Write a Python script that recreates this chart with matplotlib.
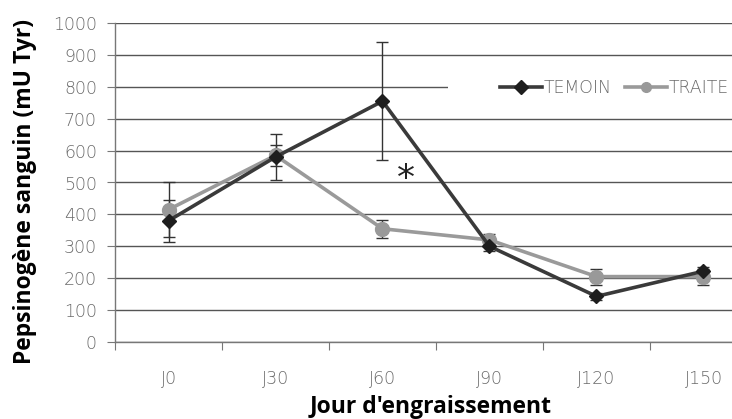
import matplotlib
matplotlib.use("Agg")
import matplotlib.pyplot as plt
import matplotlib.transforms as mtransforms
from matplotlib.patches import Rectangle
import numpy as np

categories = ["J0", "J30", "J60", "J90", "J120", "J150"]
temoin = [380, 580, 755, 300, 143, 222]
temoin_err = [65, 72, 185, 15, 12, 12]
traite = [415, 585, 355, 320, 205, 205]
traite_err = [85, 33, 28, 20, 25, 25]
yticks = [0, 100, 200, 300, 400, 500, 600, 700, 800, 900, 1000]

W, H = 732, 419
fig = plt.figure(figsize=(W / 100, H / 100), dpi=100)
left, right, top, bottom = 115, 757, 23, 342
ax = fig.add_axes([left / W, (H - bottom) / H, (right - left) / W, (bottom - top) / H])

x = np.arange(len(categories))
tick_col = "#6a6a6a"
grid_col = "#555555"

ax.set_xlim(-0.5, len(categories) - 0.5)
ax.set_ylim(0, 1000)
ax.set_yticks(yticks)
ax.yaxis.grid(True, color=grid_col, linewidth=1.0, zorder=0)
ax.set_axisbelow(True)

for s in ["top", "right"]:
    ax.spines[s].set_visible(False)
for s in ["left", "bottom"]:
    ax.spines[s].set_color("#777777")
    ax.spines[s].set_linewidth(1.0)

ax.set_xticks(np.arange(len(categories) + 1) - 0.5)
ax.set_xticks(x, minor=True)
ax.set_xticklabels([])
ax.set_xticklabels(categories, minor=True)
ax.tick_params(axis="x", which="major", length=6, color="#777777", direction="out")
ax.tick_params(axis="x", which="minor", length=0, pad=20, labelsize=12.5, labelcolor=tick_col)
ax.tick_params(axis="y", length=6, color="#777777", labelsize=12.5, labelcolor=tick_col, pad=7)
for lab in ax.get_yticklabels() + ax.get_xticklabels(minor=True):
    lab.set_family("DejaVu Sans")
    lab.set_fontweight("light")

# white block behind legend hiding part of the 800 gridline
trans = mtransforms.blended_transform_factory(ax.transAxes, ax.transData)
ax.add_patch(Rectangle(((448 - left) / (right - left), 765), 1, 70, transform=trans,
                       facecolor="white", edgecolor="none", zorder=1))

ax.errorbar(x, temoin, yerr=temoin_err, fmt="none", ecolor="#333333",
            elinewidth=1.0, capsize=4, capthick=1.0, zorder=2)
ax.errorbar(x, traite, yerr=traite_err, fmt="none", ecolor="#333333",
            elinewidth=1.0, capsize=4, capthick=1.0, zorder=2)
l1, = ax.plot(x, temoin, color="#3a3a3a", linewidth=2.6, marker="D", markersize=7.5,
              markerfacecolor="#1e1e1e", markeredgecolor="#1e1e1e", label="TEMOIN", zorder=4)
l2, = ax.plot(x, traite, color="#9a9a9a", linewidth=2.6, marker="o", markersize=10,
              markerfacecolor="#999999", markeredgecolor="#999999", label="TRAITE", zorder=3)

ax.text(2.22, 510, "*", fontsize=26, ha="center", va="center", color="#222222")

leg = ax.legend(handles=[l1, l2], loc="center left",
                bbox_to_anchor=((500 - left) / (right - left), 0.795), ncol=2,
                frameon=False, fontsize=12.5, handlelength=2.4, handletextpad=0.1,
                columnspacing=0.8, borderpad=0.0, borderaxespad=0.0)
for t in leg.get_texts():
    t.set_color(tick_col)
    t.set_fontweight("light")
for h in leg.legend_handles:
    h.set_markersize(7)

fig.text(431 / W, (H - 407) / H, "Jour d'engraissement", ha="center", va="center",
         fontsize=16.5, fontweight="bold", family="Open Sans")
fig.text(25 / W, (H - 191) / H, "Pepsinogène sanguin (mU Tyr)", rotation=90, ha="center",
         va="center", fontsize=16.5, fontweight="bold", family="Open Sans")

fig.savefig("out.png", dpi=100)
